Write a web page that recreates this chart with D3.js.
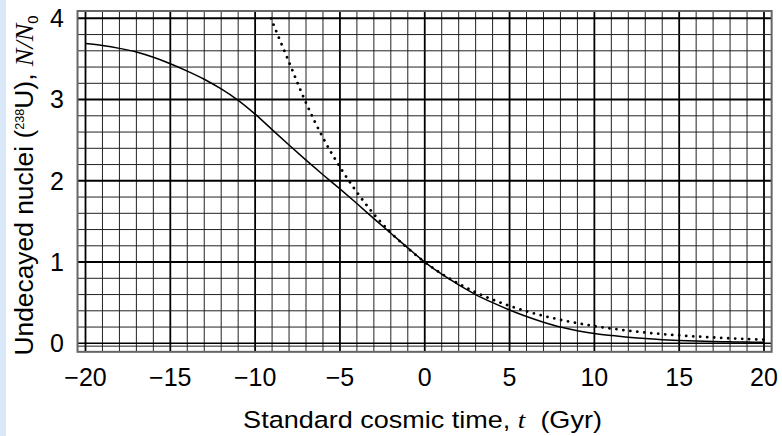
<!DOCTYPE html>
<html>
<head>
<meta charset="utf-8">
<script src="https://cdn.jsdelivr.net/npm/d3@7"></script>
<style>
  html, body { margin: 0; padding: 0; background: #fff; }
  svg { display: block; }
  text { font-family: "Liberation Sans", Arial, sans-serif; fill: #000; }
</style>
</head>
<body>
<svg id="chart" width="782" height="436"></svg>
<script>
// ---- data ----
const xTicks = [-20, -15, -10, -5, 0, 5, 10, 15, 20];
const xTickLabels = ["\u221220", "\u221215", "\u221210", "\u22125", "0", "5", "10", "15", "20"];
const yTicks = [0, 1, 2, 3, 4];
const yTickLabels = ["0", "1", "2", "3", "4"];

// solid curve (standard cosmic time model)
const solidT = [-20,-19,-18,-17,-16,-15,-14,-13,-12,-11,-10,-9,-8,-7,-6,-5,-4,-3,-2,-1,0,1,2,3,4,5,6,7,8,9,10,11,12,13,14,15,16,17,18,19,20];
const solidN = [3.69,3.665,3.63,3.585,3.52,3.44,3.35,3.25,3.13,2.99,2.82,2.63,2.44,2.255,2.075,1.90,1.72,1.535,1.355,1.175,1.00,0.85,0.72,0.60,0.50,0.41,0.33,0.26,0.20,0.155,0.12,0.095,0.075,0.058,0.045,0.035,0.028,0.022,0.018,0.015,0.012];

// dotted curve (simple exponential decay)
const dotT = [-9.07,-8,-7,-6,-5,-4,-3,-2,-1,0,1,2,3,4,5,6,7,8,9,10,11,12,13,14,15,16,17,18,19,20];
const dotN = [4.00,3.46,2.96,2.53,2.17,1.86,1.59,1.36,1.17,1.00,0.856,0.733,0.628,0.538,0.461,0.394,0.338,0.289,0.248,0.212,0.182,0.156,0.133,0.114,0.098,0.084,0.072,0.061,0.053,0.045];

// ---- drawing ----
const svg = d3.select("#chart");
svg.append("rect").attr("x", 0).attr("y", 0).attr("width", 782).attr("height", 436).attr("fill", "#fff");
svg.append("rect").attr("x", 0).attr("y", 0).attr("width", 6).attr("height", 436).attr("fill", "#d9e8f8");

const x = d3.scaleLinear().domain([-20, 20]).range([85.5, 764]);
const y = d3.scaleLinear().domain([0, 4]).range([343.3, 18.3]);

const grid = svg.append("g");
// vertical grid lines every 1 Gyr
d3.range(-20, 21, 1).forEach(t => {
  const major = t % 5 === 0;
  grid.append("line")
    .attr("x1", x(t)).attr("x2", x(t))
    .attr("y1", y(4.09)).attr("y2", y(-0.105))
    .attr("stroke", major ? "#000" : "#222")
    .attr("stroke-width", major ? 1.8 : 1);
});
// horizontal grid lines every 0.2
d3.range(0, 21, 1).map(i => i * 0.2).forEach(v => {
  const major = Math.abs(v - Math.round(v)) < 1e-6;
  grid.append("line")
    .attr("x1", x(-20.47)).attr("x2", x(20.45))
    .attr("y1", y(v)).attr("y2", y(v))
    .attr("stroke", major ? "#000" : "#222")
    .attr("stroke-width", major ? (v === 0 ? 1.4 : 2) : 1);
});
grid.append("line")
  .attr("x1", x(-20.47)).attr("x2", x(20.45))
  .attr("y1", y(-0.035)).attr("y2", y(-0.035))
  .attr("stroke", "#222").attr("stroke-width", 1);

// frame
svg.append("rect")
  .attr("x", x(-20.47)).attr("y", y(4.09))
  .attr("width", x(20.45) - x(-20.47)).attr("height", y(-0.105) - y(4.09))
  .attr("fill", "none").attr("stroke", "#666").attr("stroke-width", 2);

// curves
const line = d3.line().x(d => x(d[0])).y(d => y(d[1])).curve(d3.curveCatmullRom);
svg.append("path")
  .datum(solidT.map((t, i) => [t, solidN[i]]))
  .attr("d", line).attr("fill", "none").attr("stroke", "#000").attr("stroke-width", 1.5);
svg.append("path")
  .datum(dotT.map((t, i) => [t, dotN[i]]))
  .attr("d", line).attr("fill", "none").attr("stroke", "#000").attr("stroke-width", 2.8)
  .attr("stroke-linecap", "round").attr("stroke-dasharray", "0.01 7");

// x tick labels
svg.append("g").selectAll("text").data(xTicks).join("text")
  .attr("x", d => x(d)).attr("y", 386)
  .attr("text-anchor", "middle").attr("font-size", 25)
  .text((d, i) => xTickLabels[i]);

// y tick labels
svg.append("g").selectAll("text").data(yTicks).join("text")
  .attr("x", 64).attr("y", d => y(d) + 8.8)
  .attr("text-anchor", "end").attr("font-size", 25)
  .text((d, i) => yTickLabels[i]);

// x axis title (reference text is horizontally stretched)
const xt = svg.append("text").attr("transform", "translate(422.5,428) scale(1.15,1)")
  .attr("text-anchor", "middle").attr("font-size", 23.5).style("white-space", "pre");
xt.append("tspan").text("Standard cosmic time, ");
xt.append("tspan").attr("font-family", "'Liberation Serif', 'Times New Roman', serif").attr("font-style", "italic").text("t");
xt.append("tspan").text("  (Gyr)");

// y axis title
const yt = svg.append("text").attr("transform", "translate(33,185.5) rotate(-90) scale(1.055,1)")
  .attr("text-anchor", "middle").attr("font-size", 25).style("white-space", "pre");
yt.append("tspan").text("Undecayed nuclei (");
yt.append("tspan").attr("font-size", 12).attr("dy", -9).text("238");
yt.append("tspan").attr("dy", 9).text("U), ");
yt.append("tspan").attr("font-family", "'Liberation Serif', 'Times New Roman', serif").attr("font-style", "italic").text("N/N");
yt.append("tspan").attr("font-size", 14).attr("dy", 5).text("0");
</script>
</body>
</html>
